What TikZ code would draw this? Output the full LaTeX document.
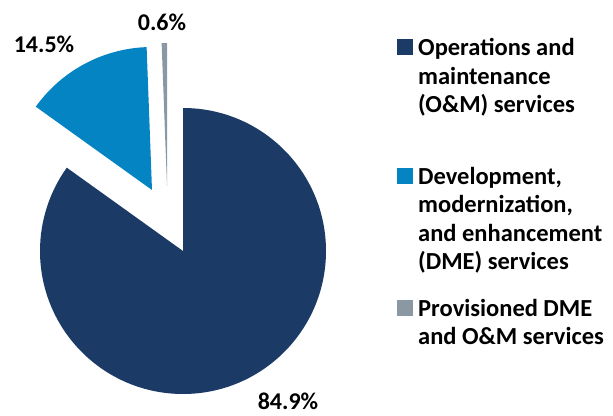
\documentclass[tikz,border=0pt]{standalone}
\usepackage{fontspec}
\setmainfont{Carlito}
\definecolor{omnavy}{HTML}{1C3A66}
\definecolor{dmeblue}{HTML}{0584C4}
\definecolor{provgray}{HTML}{8A98A3}
\tikzset{
  pct/.style={font=\fontsize{24}{28}\selectfont\bfseries, inner sep=0pt},
  legtext/.style={font=\fontsize{24.5}{28.5}\selectfont\bfseries, align=left, inner sep=0pt, anchor=base west},
  legsq/.style={minimum size=16pt, inner sep=0pt, draw=none}
}
\begin{document}
\begin{tikzpicture}[x=1pt,y=1pt]
\useasboundingbox (0,0) rectangle (613,415);
% slices
\coordinate (cOM) at (183,164);
\coordinate (cDME) at (152,225);
\coordinate (cPR) at (167,229);
\fill[omnavy] (cOM) -- ++(90:143) arc[start angle=90, end angle=-215.64, radius=143] -- cycle;
\fill[dmeblue] (cDME) -- ++(92.16:143) arc[start angle=92.16, end angle=144.36, radius=143] -- cycle;
\fill[provgray] (cPR) -- ++(90:143) arc[start angle=90, end angle=92.16, radius=143] -- cycle;
% percentage labels
\node[pct] (pDME) at (44,371) {14.5\%};
\node[pct] (pPR) at (162,393) {0.6\%};
\node[pct] (pOM) at (288,14) {84.9\%};
% legend
\node[legsq, fill=omnavy] (sq1) at (404.5,367.5) {};
\node[legtext] (t1) at (418,302) {Operations and\\maintenance\\(O\&M) services};
\node[legsq, fill=dmeblue] (sq2) at (404.5,238.5) {};
\node[legtext] (t2) at (418,145) {Development,\\modernization,\\and enhancement\\(DME) services};
\node[legsq, fill=provgray] (sq3) at (404.5,106.5) {};
\node[legtext] (t3) at (418,70) {Provisioned DME\\and O\&M services};
\end{tikzpicture}
\end{document}
